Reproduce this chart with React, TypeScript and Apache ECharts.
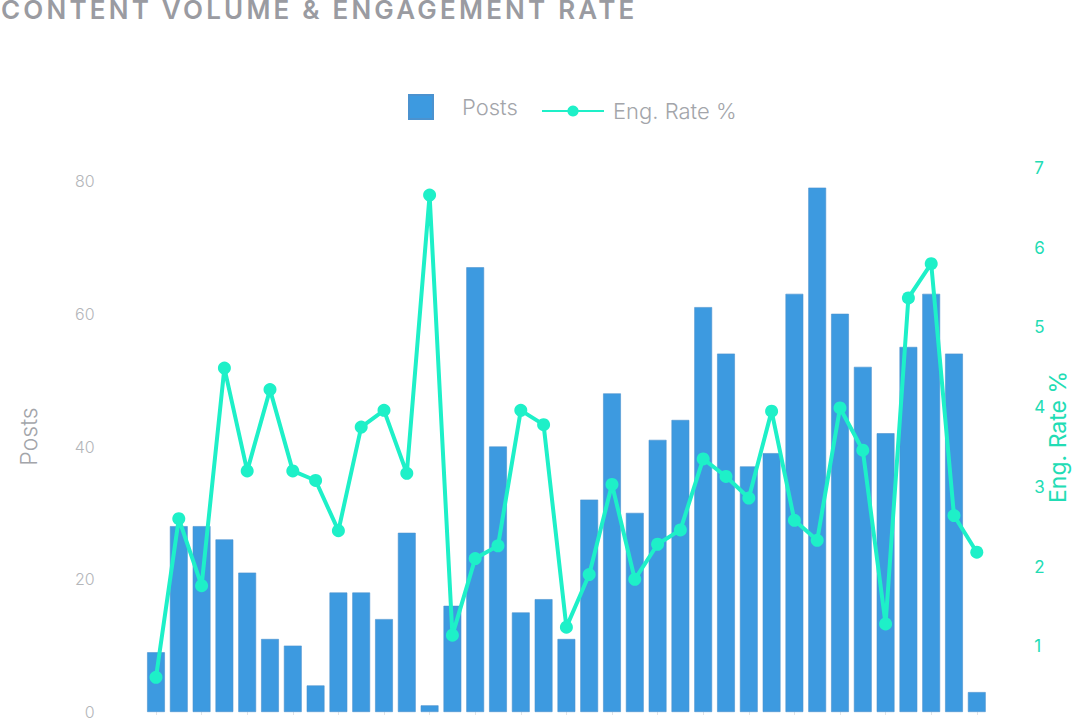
import { useEffect, useRef } from 'react';
import * as echarts from 'echarts';

const TITLE = 'CONTENT VOLUME & ENGAGEMENT RATE';

const weeks = [
  'W1', 'W2', 'W3', 'W4', 'W5', 'W6', 'W7', 'W8', 'W9', 'W10',
  'W11', 'W12', 'W13', 'W14', 'W15', 'W16', 'W17', 'W18', 'W19', 'W20',
  'W21', 'W22', 'W23', 'W24', 'W25', 'W26', 'W27', 'W28', 'W29', 'W30',
  'W31', 'W32', 'W33', 'W34', 'W35', 'W36', 'W37',
];

const posts = [
  9, 28, 28, 26, 21, 11, 10, 4, 18, 18,
  14, 27, 1, 16, 67, 40, 15, 17, 11, 32,
  48, 30, 41, 44, 61, 54, 37, 39, 63, 79,
  60, 52, 42, 55, 63, 54, 3,
];

const engRate = [
  0.61, 2.6, 1.76, 4.49, 3.2, 4.22, 3.2, 3.08, 2.45, 3.75,
  3.96, 3.17, 6.66, 1.14, 2.1, 2.26, 3.96, 3.78, 1.24, 1.9,
  3.03, 1.84, 2.28, 2.46, 3.35, 3.13, 2.86, 3.95, 2.58, 2.33,
  3.99, 3.46, 1.28, 5.37, 5.8, 2.64, 2.18,
];

const BAR_COLOR = '#3d9ae0';
const LINE_COLOR = '#1ef0c8';
const TEAL_TEXT = '#22dcb4';
const GRAY_TEXT = '#a3a5aa';
const FONT = 'Inter, Roboto, sans-serif';

export default function App() {
  const chartRef = useRef<HTMLDivElement>(null);

  useEffect(() => {
    document.body.style.margin = '0';
    if (!chartRef.current) return;

    const chart = echarts.init(chartRef.current, undefined, { renderer: 'svg' });

    const option: echarts.EChartsOption = {
      animation: false,
      backgroundColor: '#ffffff',
      textStyle: { fontFamily: FONT },
      title: {
        text: TITLE,
        left: -4,
        top: -9,
        textStyle: { color: '#9a9ba1', fontSize: 26, fontWeight: 600, fontFamily: FONT },
      },
      legend: [
        {
          data: [{ name: 'Posts', icon: 'rect' }],
          left: 403,
          top: 89,
          itemWidth: 24,
          itemHeight: 24,
          textStyle: { color: GRAY_TEXT, fontSize: 22, fontWeight: 300, padding: [0, 0, 0, 24] },
        },
        {
          data: ['Eng. Rate %'],
          left: 536,
          top: 95,
          itemWidth: 62,
          itemHeight: 14,
          textStyle: { color: GRAY_TEXT, fontSize: 22, fontWeight: 300, padding: [0, 0, 0, 4] },
        },
      ],
      grid: [
        { left: 144.6, right: 83.8, top: 181, bottom: 48, outerBoundsMode: 'none' },
        { left: 144.6, right: 83.8, top: 168, bottom: 34, outerBoundsMode: 'none' },
      ],
      xAxis: [
        {
          type: 'category',
          gridIndex: 0,
          data: weeks,
          axisLine: { show: false },
          axisTick: { show: true, alignWithLabel: true, length: 3, lineStyle: { color: '#e2e4e7' } },
          axisLabel: { show: false },
        },
        {
          type: 'category',
          gridIndex: 1,
          data: weeks,
          show: false,
        },
      ],
      yAxis: [
        {
          type: 'value',
          gridIndex: 0,
          min: 0,
          max: 80,
          interval: 20,
          name: 'Posts',
          nameLocation: 'middle',
          nameGap: 104,
          nameMoveOverlap: false,
          nameTextStyle: { color: GRAY_TEXT, fontSize: 23, fontWeight: 300, padding: [0, 0, 0, 20] },
          axisLine: { show: false },
          axisTick: { show: false },
          splitLine: { show: false },
          axisLabel: { color: '#b4b6ba', fontSize: 16, fontWeight: 300, margin: 50 },
        },
        {
          type: 'value',
          gridIndex: 1,
          position: 'right',
          min: 0,
          max: 7,
          interval: 1,
          name: 'Eng. Rate %',
          nameLocation: 'middle',
          nameGap: 58,
          nameMoveOverlap: false,
          nameTextStyle: { color: TEAL_TEXT, fontSize: 23, fontWeight: 400, padding: [0, 0, 0, 20] },
          axisLine: { show: false },
          axisTick: { show: false },
          splitLine: { show: false },
          axisLabel: { color: TEAL_TEXT, fontSize: 17, margin: 46, showMinLabel: false },
        },
      ],
      series: [
        {
          name: 'Posts',
          type: 'bar',
          xAxisIndex: 0,
          yAxisIndex: 0,
          data: posts,
          barCategoryGap: '22%',
          itemStyle: { color: BAR_COLOR, borderColor: '#4b92cf', borderWidth: 0.6 },
          z: 2,
        },
        {
          name: 'Eng. Rate %',
          type: 'line',
          xAxisIndex: 1,
          yAxisIndex: 1,
          data: engRate,
          symbol: 'circle',
          symbolSize: 13,
          lineStyle: { color: LINE_COLOR, width: 4 },
          itemStyle: { color: LINE_COLOR },
          z: 5,
        },
      ],
    };

    chart.setOption(option);

    // ECharts has no letter-spacing option, so the spaced-out title is styled on the svg text
    chartRef.current.querySelectorAll('text').forEach((el) => {
      if (el.textContent === TITLE) el.setAttribute('letter-spacing', '3.2');
    });

    const handleResize = () => chart.resize();
    window.addEventListener('resize', handleResize);

    return () => {
      window.removeEventListener('resize', handleResize);
      chart.dispose();
    };
  }, []);

  return (
    <div style={{ width: 1072, height: 720, overflow: 'hidden', background: '#fff' }}>
      <div ref={chartRef} style={{ width: 1072, height: 760 }} />
    </div>
  );
}
